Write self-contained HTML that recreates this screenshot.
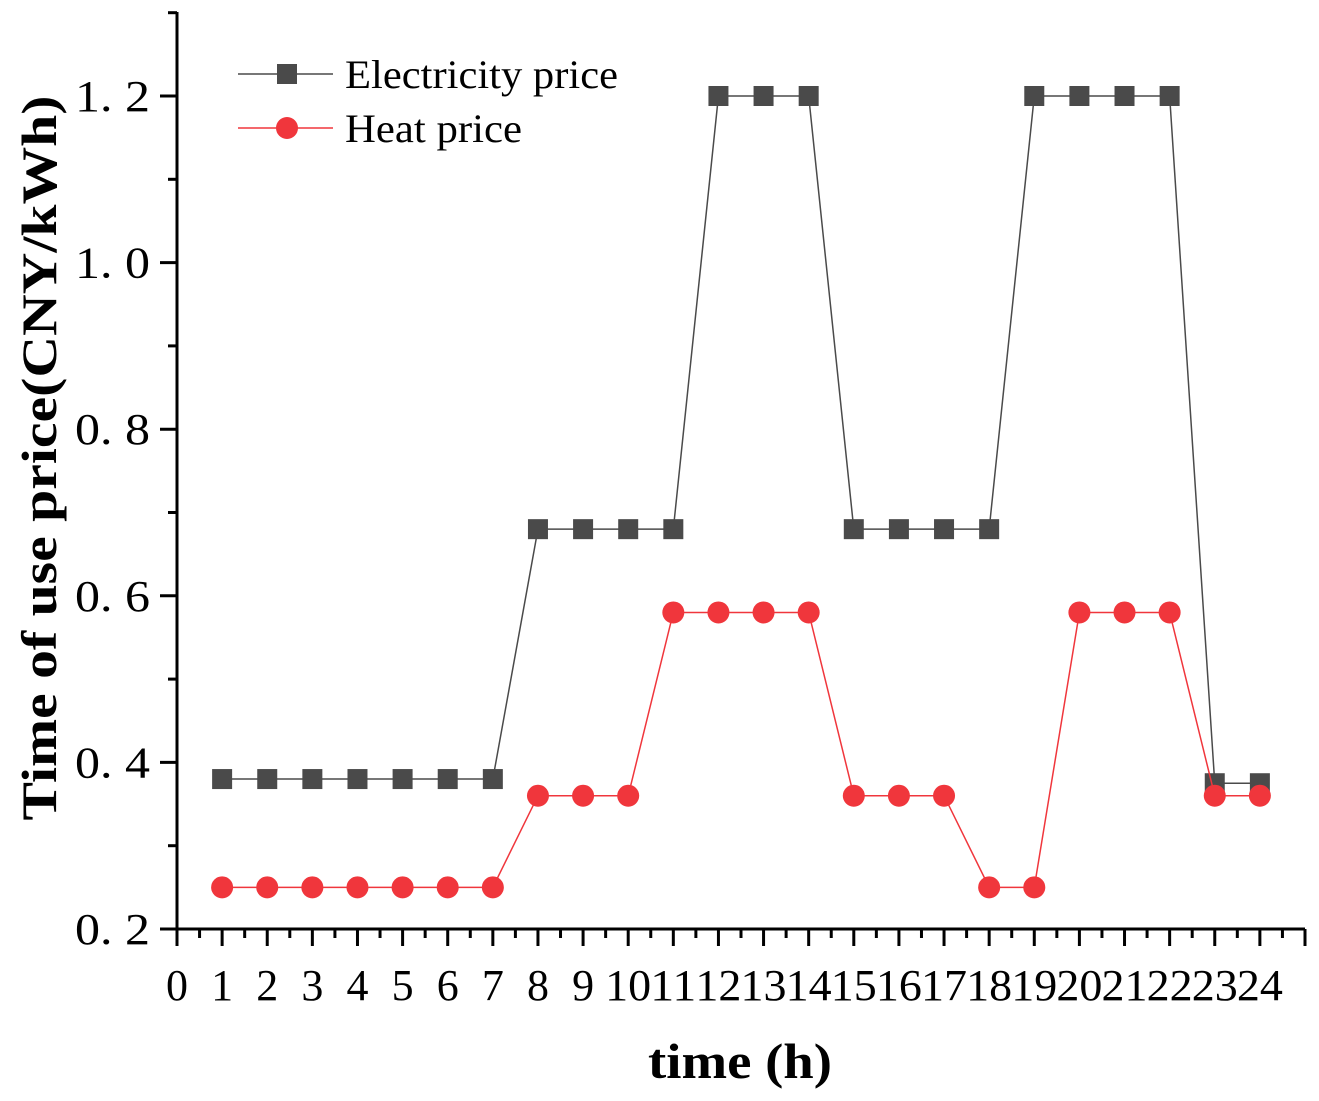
<!DOCTYPE html>
<html><head><meta charset="utf-8"><style>
html,body{margin:0;padding:0;background:#fff;}
svg{display:block;font-family:"Liberation Serif",serif;}
</style></head><body>
<svg id="chart" width="1319" height="1101" viewBox="0 0 1319 1101" xmlns="http://www.w3.org/2000/svg"></svg>
<script>
const hours = [1,2,3,4,5,6,7,8,9,10,11,12,13,14,15,16,17,18,19,20,21,22,23,24];
const electricityPrice = [0.38,0.38,0.38,0.38,0.38,0.38,0.38,0.68,0.68,0.68,0.68,1.2,1.2,1.2,0.68,0.68,0.68,0.68,1.2,1.2,1.2,1.2,0.375,0.375];
const heatPrice = [0.25,0.25,0.25,0.25,0.25,0.25,0.25,0.36,0.36,0.36,0.58,0.58,0.58,0.58,0.36,0.36,0.36,0.25,0.25,0.58,0.58,0.58,0.36,0.36];
const xTickLabels = ["0","1","2","3","4","5","6","7","8","9","10","11","12","13","14","15","16","17","18","19","20","21","22","23","24"];
const yTickValues = [0.2,0.4,0.6,0.8,1.0,1.2];
const yTickLabels = ["0. 2","0. 4","0. 6","0. 8","1. 0","1. 2"];

const svg = document.getElementById('chart');
const NS = 'http://www.w3.org/2000/svg';
const X0 = 177, XS = 45.12, Y0 = 929, YS = 833;
const sx = v => X0 + v*XS;
const sy = v => Y0 - (v-0.2)*YS;
function mk(tag, attrs, parent){const e=document.createElementNS(NS,tag);for(const k in attrs)e.setAttribute(k,attrs[k]);(parent||svg).appendChild(e);return e;}

const axes = mk('g',{});


const xAxis = mk('line',{x1:sx(0)-1,y1:Y0,x2:sx(25),y2:Y0,stroke:'#000','stroke-width':3},axes);


const yAxis = mk('line',{x1:X0,y1:12,x2:X0,y2:Y0+1,stroke:'#000','stroke-width':3},axes);


for(let i=0;i<=25;i++){
  mk('line',{x1:sx(i),y1:Y0,x2:sx(i),y2:Y0+17,stroke:'#000','stroke-width':3},axes);
  if(i<25) mk('line',{x1:sx(i+0.5),y1:Y0,x2:sx(i+0.5),y2:Y0+9,stroke:'#000','stroke-width':3},axes);
}
xTickLabels.forEach((t,i)=>{
  const tx = mk('text',{x:sx(i),y:1000,'font-size':44,'text-anchor':'middle'},axes);
  if(t.length>1){tx.setAttribute('textLength',46);tx.setAttribute('lengthAdjust','spacingAndGlyphs');}
  tx.textContent=t;
  
  
});
for(let v=0.2;v<=1.301;v+=0.1){
  const major = Math.round(v*10)%2===0;
  mk('line',{x1:X0,y1:sy(v),x2:X0-(major?17:9),y2:sy(v),stroke:'#000','stroke-width':3},axes);
}
yTickValues.forEach((v,i)=>{
  const tx = mk('text',{x:150,y:sy(v)+15,'font-size':44,'text-anchor':'end',textLength:75,lengthAdjust:'spacingAndGlyphs'},axes);
  tx.textContent=yTickLabels[i];
  
  
});
const xt = mk('text',{x:740,y:1078,'font-size':50,'font-weight':'bold','text-anchor':'middle',textLength:184,lengthAdjust:'spacingAndGlyphs'});
xt.textContent='time (h)';


const yt = mk('text',{x:0,y:0,'font-size':50,'font-weight':'bold','text-anchor':'middle',textLength:725,lengthAdjust:'spacingAndGlyphs',transform:'translate(56,458) rotate(-90)'});
yt.textContent='Time of use price(CNY/kWh)';



function series(vals,color,shape,name){
  const g = mk('g',{});
  
  
  mk('polyline',{points:vals.map((v,i)=>sx(hours[i])+','+sy(v)).join(' '),fill:'none',stroke:color,'stroke-width':1.5},g);
  vals.forEach((v,i)=>{
    let m;
    if(shape==='square') m=mk('rect',{x:sx(hours[i])-10,y:sy(v)-10,width:20,height:20,fill:color},g);
    else m=mk('circle',{cx:sx(hours[i]),cy:sy(v),r:11,fill:color},g);
    
    
  });
}
series(electricityPrice,'#4a4a4a','square','electricity-series');
series(heatPrice,'#f0363c','circle','heat-series');

const lg = mk('g',{});


const le1 = mk('g',{},lg);


mk('line',{x1:238,y1:74,x2:333,y2:74,stroke:'#4a4a4a','stroke-width':1.5},le1);
mk('rect',{x:277,y:64,width:20,height:20,fill:'#4a4a4a'},le1);
mk('text',{x:345,y:88,'font-size':40,textLength:273,lengthAdjust:'spacingAndGlyphs'},le1).textContent='Electricity price';
const le2 = mk('g',{},lg);


mk('line',{x1:238,y1:128,x2:333,y2:128,stroke:'#f0363c','stroke-width':1.5},le2);
mk('circle',{cx:287,cy:128,r:11,fill:'#f0363c'},le2);
mk('text',{x:345,y:142,'font-size':40,textLength:177,lengthAdjust:'spacingAndGlyphs'},le2).textContent='Heat price';
</script>
</body></html>
